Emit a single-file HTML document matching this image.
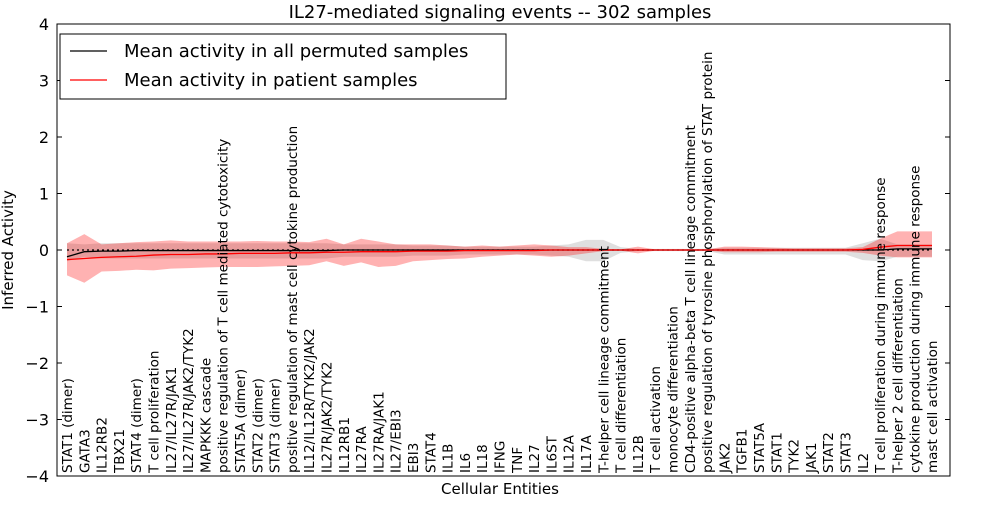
<!DOCTYPE html>
<html><head><meta charset="utf-8"><style>
body{margin:0;background:#fff;font-family:"Liberation Sans","DejaVu Sans",sans-serif}
svg text{font-family:"DejaVu Sans","Liberation Sans",sans-serif}
</style></head><body>
<svg id="chart" width="1000" height="500" xmlns="http://www.w3.org/2000/svg"></svg>
<script>
const categories=["STAT1 (dimer)","GATA3","IL12RB2","TBX21","STAT4 (dimer)","T cell proliferation","IL27/IL27R/JAK1","IL27/IL27R/JAK2/TYK2","MAPKKK cascade","positive regulation of T cell mediated cytotoxicity","STAT5A (dimer)","STAT2 (dimer)","STAT3 (dimer)","positive regulation of mast cell cytokine production","IL12/IL12R/TYK2/JAK2","IL27R/JAK2/TYK2","IL12RB1","IL27RA","IL27RA/JAK1","IL27/EBI3","EBI3","STAT4","IL1B","IL6","IL18","IFNG","TNF","IL27","IL6ST","IL12A","IL17A","T-helper cell lineage commitment","T cell differentiation","IL12B","T cell activation","monocyte differentiation","CD4-positive alpha-beta T cell lineage commitment","positive regulation of tyrosine phosphorylation of STAT protein","JAK2","TGFB1","STAT5A","STAT1","TYK2","JAK1","STAT2","STAT3","IL2","T cell proliferation during immune response","T-helper 2 cell differentiation","cytokine production during immune response","mast cell activation"];
const redMean=[-0.17,-0.15,-0.13,-0.12,-0.11,-0.09,-0.08,-0.08,-0.07,-0.07,-0.06,-0.06,-0.06,-0.05,-0.05,-0.04,-0.04,-0.03,-0.03,-0.03,-0.02,-0.02,-0.02,-0.01,-0.01,-0.01,-0.01,-0.01,0,0,0,0,0,0,0,0,0,0,0,0,0,0,0,0,0,0,0.01,0.05,0.08,0.08,0.08];
const redHi=[0.12,0.28,0.1,0.12,0.14,0.15,0.17,0.15,0.15,0.15,0.15,0.16,0.15,0.15,0.14,0.2,0.1,0.2,0.15,0.1,0.1,0.1,0.08,0.06,0.08,0.06,0.08,0.1,0.08,0.05,0.05,0.02,0.01,0.06,0.01,0.01,0.01,0.01,0.06,0.06,0.05,0.04,0.03,0.03,0.03,0.03,0.05,0.2,0.33,0.33,0.33];
const redLo=[-0.45,-0.58,-0.38,-0.37,-0.35,-0.36,-0.33,-0.32,-0.31,-0.3,-0.3,-0.3,-0.29,-0.28,-0.27,-0.2,-0.28,-0.22,-0.3,-0.28,-0.2,-0.18,-0.16,-0.15,-0.12,-0.1,-0.08,-0.1,-0.12,-0.1,-0.06,-0.02,-0.01,-0.06,-0.01,-0.01,-0.01,-0.01,-0.04,-0.04,-0.04,-0.03,-0.03,-0.03,-0.03,-0.03,-0.05,-0.1,-0.13,-0.13,-0.13];
const blackMean=[-0.12,-0.03,-0.02,-0.02,-0.01,-0.01,-0.01,-0.01,-0.01,-0.01,-0.01,-0.01,-0.01,-0.01,-0.01,-0.01,0,0,0,0,0,0,0,0,0,0,0,0,0,0,0,0,0,0,0,0,0,0,0,0,0,0,0,0,0,0,0,0,0.02,0.02,0.02];
const grayHi=[0.12,0.1,0.12,0.12,0.12,0.12,0.12,0.12,0.12,0.12,0.12,0.12,0.12,0.12,0.12,0.12,0.1,0.1,0.1,0.1,0.08,0.08,0.08,0.06,0.06,0.06,0.06,0.06,0.08,0.1,0.18,0.18,0.05,0.02,0.02,0.02,0.02,0.02,0.04,0.04,0.04,0.04,0.04,0.04,0.04,0.04,0.12,0.2,0.1,0.1,0.1];
const grayLo=[-0.2,-0.12,-0.15,-0.15,-0.15,-0.15,-0.15,-0.15,-0.15,-0.15,-0.15,-0.15,-0.15,-0.15,-0.15,-0.15,-0.12,-0.12,-0.12,-0.12,-0.1,-0.1,-0.1,-0.08,-0.08,-0.08,-0.08,-0.08,-0.1,-0.12,-0.2,-0.2,-0.05,-0.02,-0.02,-0.02,-0.02,-0.02,-0.08,-0.08,-0.08,-0.08,-0.08,-0.08,-0.08,-0.08,-0.18,-0.2,-0.12,-0.12,-0.12];
const yTicks=[-4,-3,-2,-1,0,1,2,3,4];

const NS="http://www.w3.org/2000/svg";
const svg=document.getElementById('chart');
const L=57,R=950,T=24,B=476;
const x=i=>67+i*(932-67)/(categories.length-1);
const y=v=>T+(4-v)*(B-T)/8;
function mk(tag,attrs,parent){const e=document.createElementNS(NS,tag);for(const k in attrs)e.setAttribute(k,attrs[k]);(parent||svg).appendChild(e);return e;}
function band(lo,hi,fill,name){
  let d='M'+lo.map((v,i)=>x(i)+','+y(hi[i])).join('L');
  for(let i=lo.length-1;i>=0;i--)d+='L'+x(i)+','+y(lo[i]);
  const p=mk('path',{d:d+'Z',fill:fill});
  
  
}
function line(arr,color,name){
  const p=mk('polyline',{points:arr.map((v,i)=>x(i)+','+y(v)).join(' '),fill:'none',stroke:color,'stroke-width':1.3});
  
  
}
band(grayLo,grayHi,'rgba(128,128,128,0.25)','permuted-range-band');
band(redLo,redHi,'rgba(255,0,0,0.3)','patient-range-band');
const z=mk('line',{x1:x(0),x2:x(categories.length-1),y1:y(0),y2:y(0),stroke:'#000','stroke-width':1.2,'stroke-dasharray':'2,3'});


line(blackMean,'#000','permuted-mean-line');
line(redMean,'#f00','patient-mean-line');
const frame=mk('rect',{x:L,y:T,width:R-L,height:B-T,fill:'none',stroke:'#000','stroke-width':1});


yTicks.forEach(v=>{
  mk('line',{x1:L,x2:L+5,y1:y(v),y2:y(v),stroke:'#000'});
  mk('line',{x1:R,x2:R-5,y1:y(v),y2:y(v),stroke:'#000'});
  const t=mk('text',{x:L-8,y:y(v)+6,'text-anchor':'end','font-size':16});
  t.textContent=(v<0?'\u2212'+(-v):v);
  
  
});
categories.forEach((c,i)=>{
  const t=mk('text',{x:0,y:0,'font-size':13.5,transform:`translate(${x(i)+5},${B-3}) rotate(-90)`});
  t.textContent=c;
  
  
});
const title=mk('text',{x:500,y:18,'text-anchor':'middle','font-size':18});
title.textContent='IL27-mediated signaling events -- 302 samples';


const xt=mk('text',{x:500,y:494,'text-anchor':'middle','font-size':15});
xt.textContent='Cellular Entities';


const yt=mk('text',{x:0,y:0,'text-anchor':'middle','font-size':15,transform:'translate(13,250) rotate(-90)'});
yt.textContent='Inferred Activity';


const lg=mk('g',{});


mk('rect',{x:60,y:34,width:446,height:65,fill:'#fff',stroke:'#000'},lg);
[['Mean activity in all permuted samples','#000',51],['Mean activity in patient samples','#f00',80]].forEach(([s,c,yy])=>{
  mk('line',{x1:70,x2:107,y1:yy,y2:yy,stroke:c,'stroke-width':1.3},lg);
  const t=mk('text',{x:124,y:yy+6,'font-size':18},lg);
  t.textContent=s;
  
  
});
</script>
</body></html>
